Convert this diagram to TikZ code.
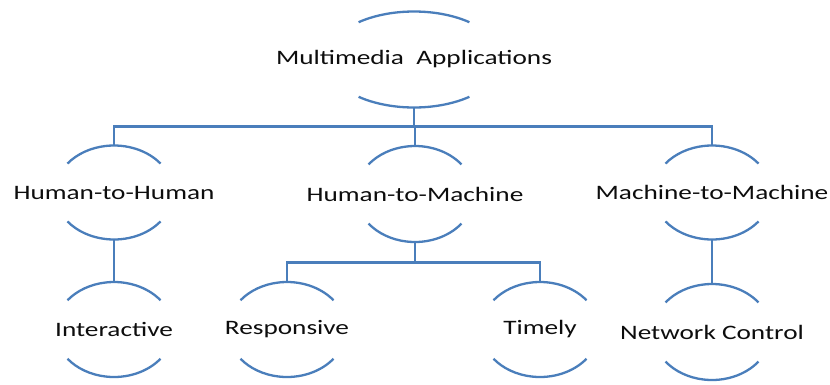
\documentclass[tikz,border=0pt]{standalone}
\usepackage{fontspec}
\setmainfont[FakeStretch=1.33]{Carlito}
\usetikzlibrary{calc}
\definecolor{arcblue}{HTML}{4A7EBB}
\definecolor{txt}{HTML}{0D0D0D}
\tikzset{
  lbl/.style={inner sep=0pt, text=txt, font=\fontsize{20.5}{22}\selectfont},
  rim/.style={draw=arcblue, line width=2.3pt},
  link/.style={draw=arcblue, line width=2.3pt},
}
% name, x, y, xrad, yrad, half angle, text
\newcommand\arcnode[7]{%
  \node[lbl] (#1) at (#2,#3) {#7};
  \coordinate (#1-t) at (#2,#3-#5);
  \coordinate (#1-b) at (#2,#3+#5);
  \draw[rim] (#2,#3) ++(-90+#6:#4 and #5) arc[start angle=-90+#6, end angle=-90-#6, x radius=#4, y radius=#5];
  \draw[rim] (#2,#3) ++(90-#6:#4 and #5) arc[start angle=90-#6, end angle=90+#6, x radius=#4, y radius=#5];
}
\begin{document}
\begin{tikzpicture}[x=1pt,y=-1pt]
\useasboundingbox (0,0) rectangle (830,384);
\arcnode{ma}{414}{59.5}{88}{48}{39}{Multimedia\ \ Applications}
\arcnode{hh}{114}{192.5}{59}{47}{52}{Human-to-Human}
\arcnode{hm}{415}{194}{59}{48}{52}{Human-to-Machine}
\arcnode{mm}{712}{192.5}{59}{47}{52}{Machine-to-Machine}
\arcnode{ia}{114}{329.5}{59}{47.5}{52}{Interactive}
\arcnode{rs}{287}{329.5}{59}{47.5}{52}{Responsive}
\arcnode{tm}{540}{329.5}{59}{47.5}{52}{Timely}
\arcnode{nc}{712}{332}{59}{48}{52}{Network Control}
\coordinate (j1) at (414,126.5);
\coordinate (j2) at (415,262.5);
\draw[link] (ma-b) -- (j1);
\draw[link] (hh-t) |- (j1) -| (mm-t);
\draw[link] (j1) -| (hm-t);
\draw[link] (hm-b) -- (j2);
\draw[link] (rs-t) |- (j2) -| (tm-t);
\draw[link] (hh-b) -- (ia-t);
\draw[link] (mm-b) -- (nc-t);
\end{tikzpicture}
\end{document}
